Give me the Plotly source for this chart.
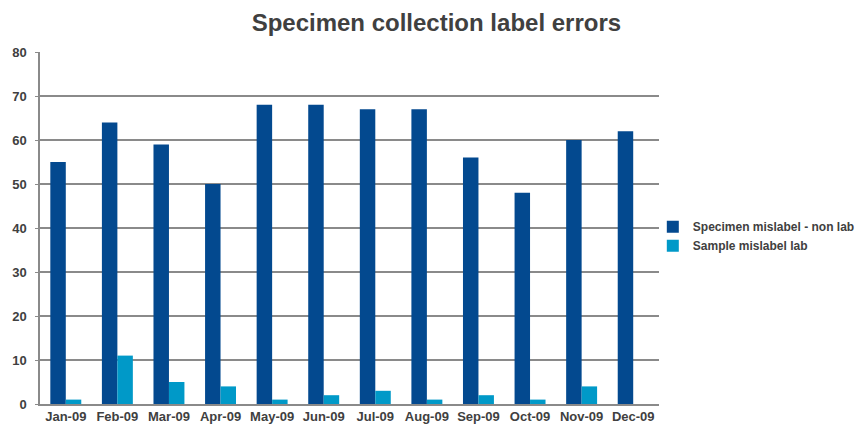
import plotly.graph_objects as go

months = ["Jan-09", "Feb-09", "Mar-09", "Apr-09", "May-09", "Jun-09",
          "Jul-09", "Aug-09", "Sep-09", "Oct-09", "Nov-09", "Dec-09"]
non_lab = [55, 64, 59, 50, 68, 68, 67, 67, 56, 48, 60, 62]
lab = [1, 11, 5, 4, 1, 2, 3, 1, 2, 1, 4, 0]
y_ticks = [0, 10, 20, 30, 40, 50, 60, 70, 80]

DARK = "#03498f"
LIGHT = "#0099c8"
TEXT = "#404040"
GRID = "#8a8a8a"

fig = go.Figure()
fig.add_trace(go.Bar(x=months, y=non_lab, name="Specimen mislabel - non lab",
                     marker=dict(color=DARK, line=dict(width=0))))
fig.add_trace(go.Bar(x=months, y=lab, name="Sample mislabel lab",
                     marker=dict(color=LIGHT, line=dict(width=0))))

fig.update_layout(
    width=859, height=430,
    margin=dict(l=40, r=200, t=52, b=26, autoexpand=False),
    paper_bgcolor="white", plot_bgcolor="white",
    barmode="group", bargap=0.4, bargroupgap=0,
    font=dict(family="Liberation Sans, Arial, sans-serif", color=TEXT, size=12),
    title=dict(text="<b>Specimen collection label errors</b>",
               x=0.508, xanchor="center", y=0.948, yanchor="middle",
               font=dict(size=24, color=TEXT, family="Liberation Sans, Arial, sans-serif")),
    showlegend=True,
    legend=dict(x=0.99, xanchor="left", y=0.545, yanchor="top",
                font=dict(size=12, color=TEXT, weight="bold"),
                itemwidth=30, tracegroupgap=2, bgcolor="rgba(0,0,0,0)"),
)
fig.update_xaxes(showline=True, linecolor=GRID, linewidth=1.5, automargin=False,
                 ticks="", tickfont=dict(size=13, color=TEXT, weight="bold"),
                 showgrid=False)
fig.update_yaxes(range=[0, 80], tickvals=y_ticks, showline=True, linecolor=GRID,
                 linewidth=1.5, showgrid=True, gridcolor=GRID, gridwidth=1.5,
                 automargin=False,
                 ticks="outside", ticklen=3, tickcolor=GRID, ticklabelstandoff=6,
                 tickfont=dict(size=13, color=TEXT, weight="bold"), zeroline=False)

fig.write_html("out.html")
